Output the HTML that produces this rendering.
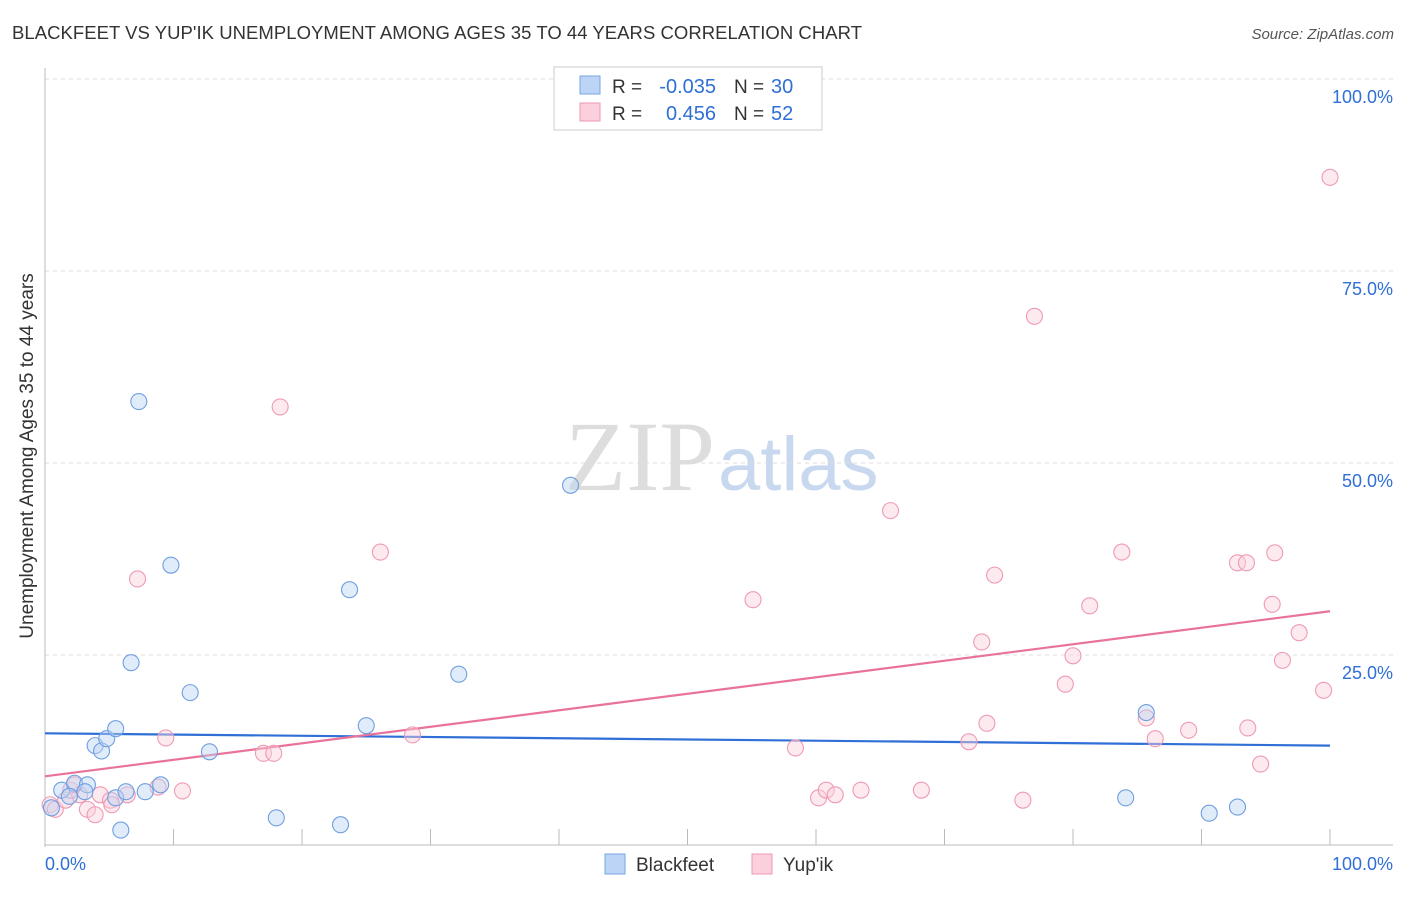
<!DOCTYPE html>
<html><head><meta charset="utf-8"><style>
body{margin:0;background:#fff;font-family:"Liberation Sans",sans-serif}
svg text{font-family:"Liberation Sans",sans-serif}
</style></head><body>
<svg id="c" width="1406" height="892">
<text x="12" y="39" font-size="18.5" fill="#333" textLength="850">BLACKFEET VS YUP'IK UNEMPLOYMENT AMONG AGES 35 TO 44 YEARS CORRELATION CHART</text>
<text x="1394" y="39" font-size="15" fill="#555" font-style="italic" text-anchor="end">Source: ZipAtlas.com</text>
<text x="715" y="490" font-size="100" fill="#ddd" text-anchor="end" style="font-family:'Liberation Serif',serif">ZIP</text>
<text x="718" y="490" font-size="76" fill="#c8d8ef">atlas</text>
<text transform="translate(33,456) rotate(-90)" font-size="19" fill="#333" text-anchor="middle">Unemployment Among Ages 35 to 44 years</text>
<g id="grid"></g><g id="lines"></g><g id="pts"></g>
<g>
<rect x="554" y="67" width="268" height="63" fill="#fff" stroke="#ccc"/>
<rect x="580" y="76" width="20" height="18" fill="#bcd4f5" stroke="#7aa6e0"/>
<rect x="580" y="103" width="20" height="18" fill="#fbd0dc" stroke="#ee9ab5"/>
<text x="612" y="93" font-size="19" fill="#333">R =</text>
<text x="716" y="93" font-size="20" fill="#2f6fd6" text-anchor="end">-0.035</text>
<text x="734" y="93" font-size="19" fill="#333">N =</text>
<text x="771" y="93" font-size="20" fill="#2f6fd6">30</text>
<text x="612" y="120" font-size="19" fill="#333">R =</text>
<text x="716" y="120" font-size="20" fill="#2f6fd6" text-anchor="end">0.456</text>
<text x="734" y="120" font-size="19" fill="#333">N =</text>
<text x="771" y="120" font-size="20" fill="#2f6fd6">52</text>
</g>
<g>
<rect x="605" y="854" width="20" height="20" fill="#bcd4f5" stroke="#7aa6e0"/>
<text x="636" y="871" font-size="19" fill="#333">Blackfeet</text>
<rect x="752" y="854" width="20" height="20" fill="#fbd0dc" stroke="#ee9ab5"/>
<text x="783" y="871" font-size="19" fill="#333">Yup'ik</text>
</g>
<text x="45" y="870" font-size="18" fill="#2f6fd6">0.0%</text>
<text x="1393" y="870" font-size="18" fill="#2f6fd6" text-anchor="end">100.0%</text>
</svg>
<script>
const yTicks=[25,50,75,100];
const yTickLabels=["25.0%","50.0%","75.0%","100.0%"];
const blackX=[5.5,0.5,1.3,2.3,3.3,3.9,4.4,4.8,5.5,5.9,6.3,6.7,7.3,7.8,9.0,9.8,11.3,12.8,18.0,23.0,23.7,25.0,32.2,40.9,84.1,85.7,90.6,92.8,1.9,3.1];
const blackY=[6.4,5.1,7.4,8.3,8.1,13.2,12.5,14.1,15.4,2.2,7.2,24.0,58.0,7.2,8.1,36.7,20.1,12.4,3.8,2.9,33.5,15.8,22.5,47.1,6.4,17.5,4.4,5.2,6.6,7.2];
const yupX=[0.4,0.8,1.6,2.7,3.3,3.9,4.3,5.1,5.2,6.4,7.2,8.8,9.4,10.7,17.0,17.8,18.3,26.1,28.6,55.1,58.4,60.2,60.8,61.5,63.5,68.2,71.9,72.9,73.3,73.9,76.1,77.0,79.4,80.0,81.3,83.8,85.7,86.4,89.0,92.8,93.5,93.6,94.6,95.5,95.7,96.3,97.6,99.5,100.0,65.8,2.0,2.3];
const yupY=[5.5,4.9,6.1,6.8,4.9,4.2,6.8,6.1,5.5,6.8,34.9,7.8,14.2,7.3,12.2,12.2,57.3,38.4,14.6,32.2,12.9,6.4,7.4,6.8,7.4,7.4,13.7,26.7,16.1,35.4,6.1,69.1,21.2,24.9,31.4,38.4,16.8,14.1,15.2,37.0,37.0,15.5,10.8,31.6,38.3,24.3,27.9,20.4,87.2,43.8,7.4,8.1];
const blackLine=[14.8,13.2];
const yupLine=[9.2,30.7];
const X=v=>45+v*12.85, Y=v=>847-v*7.68;
const NS="http://www.w3.org/2000/svg";
function mk(t,a,p){const e=document.createElementNS(NS,t);for(const k in a)e.setAttribute(k,a[k]);p.appendChild(e);return e;}
const g=document.getElementById('grid');
yTicks.forEach((t,i)=>{
 const l=mk('line',{x1:45,x2:1393,y1:Y(t),y2:Y(t),stroke:'#ddd','stroke-dasharray':'4,4'},g);
 
 
 const tx=mk('text',{x:1393,y:Y(t)+24,'font-size':18,fill:'#2f6fd6','text-anchor':'end'},g);
 tx.textContent=yTickLabels[i];
 
 
});
mk('line',{x1:45,x2:45,y1:68,y2:847,stroke:'#bbb'},g);
mk('line',{x1:45,x2:1393,y1:845,y2:845,stroke:'#bbb'},g);
for(let i=0;i<=10;i++){const t=mk('line',{x1:X(i*10),x2:X(i*10),y1:829,y2:845,stroke:'#bbb'},g);
 
 }
const L=document.getElementById('lines'),P=document.getElementById('pts');
function pts(xs,ys,f,s,name){xs.forEach((x,i)=>{const c=mk('circle',{cx:X(x),cy:Y(ys[i]),r:8,fill:f,'fill-opacity':0.45,stroke:s,'stroke-width':1.1},P);
 
 });}
pts(yupX,yupY,'#fbd0dc','#ee9ab5','yupik-point');
pts(blackX,blackY,'#bcd4f5','#6f9fe0','blackfeet-point');
const b=mk('line',{x1:X(0),x2:X(100),y1:Y(blackLine[0]),y2:Y(blackLine[1]),stroke:'#2f6fd6','stroke-width':2.2},L);


const y=mk('line',{x1:X(0),x2:X(100),y1:Y(yupLine[0]),y2:Y(yupLine[1]),stroke:'#e8729a','stroke-width':2.2},L);


</script>
</body></html>
